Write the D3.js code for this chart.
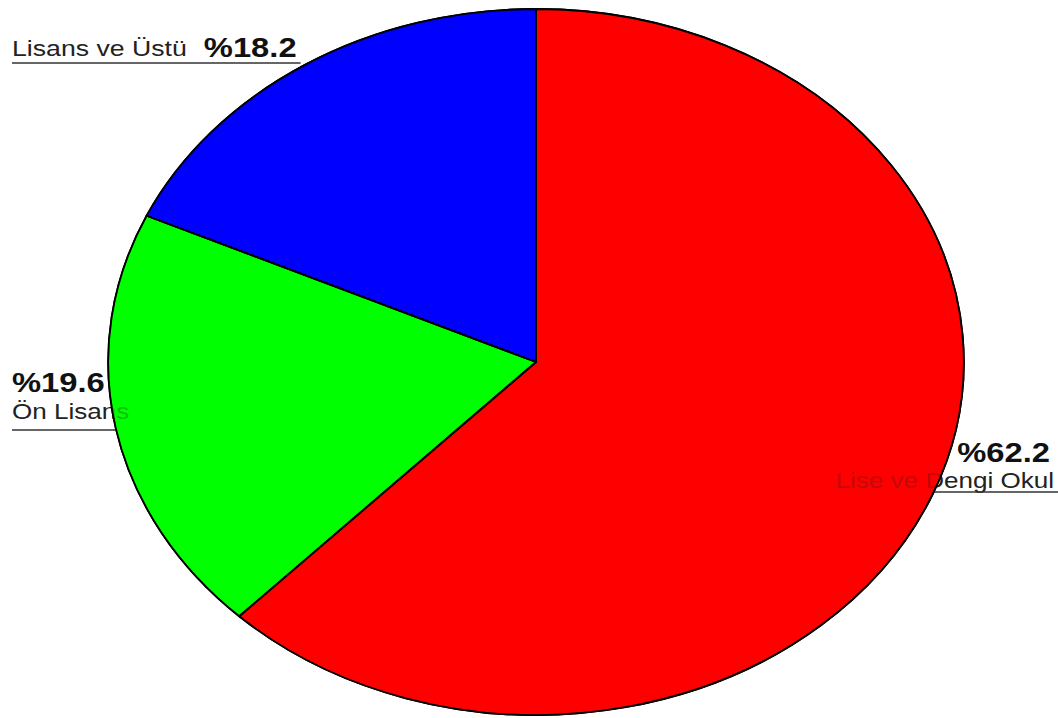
<!DOCTYPE html>
<html>
<head>
<meta charset="utf-8">
<script src="https://cdn.jsdelivr.net/npm/d3@7"></script>
<style>
  html, body { margin: 0; padding: 0; background: #fff; }
  svg { display: block; }
  text { font-family: "Liberation Sans", Arial, sans-serif; }
</style>
</head>
<body>
<svg id="chart" width="1058" height="718"></svg>
<script>
// Education level distribution (percent)
const categories = ["Lise ve Dengi Okul", "Ön Lisans", "Lisans ve Üstü"];
const values = [62.2, 19.6, 18.2];
const colors = ["#ff0000", "#00ff00", "#0000ff"];

const W = 1058, H = 718;
const cx = 536, cy = 362;
const ry = 353;          // vertical radius
const sx = 1.212;        // horizontal stretch of the whole drawing
const rx = ry * sx;

const svg = d3.select("#chart");

const pie = d3.pie().sort(null).value(d => d.value).startAngle(0).endAngle(2 * Math.PI);
const arcs = pie(categories.map((c, i) => ({ name: c, value: values[i], color: colors[i] })));
const arc = d3.arc().innerRadius(0).outerRadius(ry);

const fmt = v => "%" + d3.format(".1f")(v);

// x of the ellipse rim at a given y (left or right side)
const rimX = (y, side) => cx + side * rx * Math.sqrt(Math.max(0, 1 - ((y - cy) / ry) ** 2));

// Pie body
const pieG = svg.append("g")
  .attr("transform", `translate(${cx},${cy}) scale(${sx},1)`);

pieG.selectAll("path")
  .data(arcs)
  .join("path")
  .attr("d", arc)
  .attr("fill", d => d.data.color)
  .attr("stroke", "#000")
  .attr("stroke-width", 1.8)
  .attr("stroke-linejoin", "round")
  .attr("vector-effect", "non-scaling-stroke");

// Label layout: side and vertical offset of each label block
const labelLayout = {
  "Lisans ve Üstü":     { anchor: "inline", x: 12,   y: 56,  lineY: 63 },
  "Ön Lisans":          { anchor: "left",   x: 12,   y: 392, lineY: 430 },
  "Lise ve Dengi Okul": { anchor: "right",  x: 1052, y: 462, lineY: 492 }
};

const nameSize = 21.5, pctSize = 27;

const labels = svg.append("g");
arcs.forEach(a => {
  const L = labelLayout[a.data.name];
  if (L.anchor === "inline") {
    const t1 = labels.append("text")
      .attr("transform", `translate(${L.x},${L.y}) scale(${sx},1)`)
      .attr("font-size", 22).attr("fill", "#222")
      .text(a.data.name);
    const w = t1.node().getComputedTextLength() * sx;
    labels.append("text")
      .attr("transform", `translate(${L.x + w + 17},${L.y + 1}) scale(${sx},1)`)
      .attr("font-size", pctSize).attr("font-weight", "bold").attr("fill", "#111")
      .text(fmt(a.data.value));
    labels.append("line")
      .attr("x1", L.x).attr("x2", rimX(L.lineY, -1) - 8)
      .attr("y1", L.lineY).attr("y2", L.lineY)
      .attr("stroke", "#333").attr("stroke-width", 1.6);
  } else if (L.anchor === "left") {
    labels.append("text")
      .attr("transform", `translate(${L.x},${L.y}) scale(${sx},1)`)
      .attr("font-size", pctSize).attr("font-weight", "bold").attr("fill", "#111")
      .text(fmt(a.data.value));
    labels.append("text")
      .attr("transform", `translate(${L.x},${L.y + 27}) scale(${sx},1)`)
      .attr("font-size", nameSize).attr("fill", "#222")
      .text(a.data.name);
    labels.append("line")
      .attr("x1", L.x).attr("x2", rimX(L.lineY, -1))
      .attr("y1", L.lineY).attr("y2", L.lineY)
      .attr("stroke", "#333").attr("stroke-width", 1.6);
  } else {
    labels.append("text")
      .attr("transform", `translate(${L.x - 2},${L.y}) scale(${sx},1)`)
      .attr("text-anchor", "end")
      .attr("font-size", pctSize).attr("font-weight", "bold").attr("fill", "#111")
      .text(fmt(a.data.value));
    labels.append("text")
      .attr("transform", `translate(${L.x + 2},${L.y + 26}) scale(${sx},1)`)
      .attr("text-anchor", "end")
      .attr("font-size", nameSize).attr("fill", "#222")
      .text(a.data.name);
    labels.append("line")
      .attr("x1", rimX(L.lineY, 1)).attr("x2", W)
      .attr("y1", L.lineY).attr("y2", L.lineY)
      .attr("stroke", "#333").attr("stroke-width", 1.6);
  }
});

// Translucent veil of the slices over the labels, so text inside a slice reads faintly
const veil = svg.append("g")
  .attr("transform", `translate(${cx},${cy}) scale(${sx},1)`);
veil.selectAll("path")
  .data(arcs)
  .join("path")
  .attr("d", arc)
  .attr("fill", d => d.data.color)
  .attr("fill-opacity", 0.72)
  .attr("stroke", "none");

// Slice outlines on top
const outline = svg.append("g")
  .attr("transform", `translate(${cx},${cy}) scale(${sx},1)`);
outline.selectAll("path")
  .data(arcs)
  .join("path")
  .attr("d", arc)
  .attr("fill", "none")
  .attr("stroke", "#000")
  .attr("stroke-width", 1.8)
  .attr("stroke-linejoin", "round")
  .attr("vector-effect", "non-scaling-stroke");
</script>
</body>
</html>
